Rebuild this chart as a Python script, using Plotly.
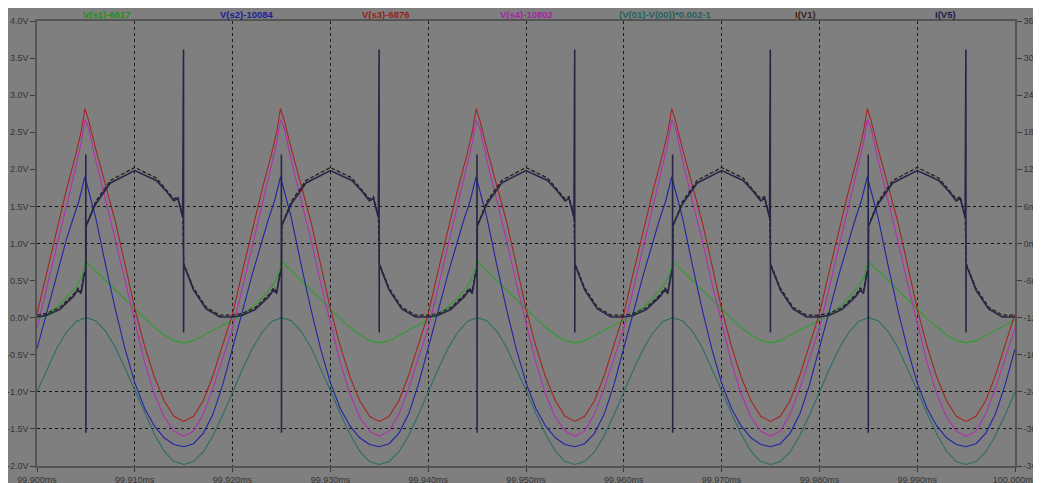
import plotly.graph_objects as go

# ---------------- data ----------------
T0_MS = 99.900
CYCLE_STARTS_US = [0, 20, 40, 60, 80]
END_US = 100.0

x_tick_vals = [99.90, 99.91, 99.92, 99.93, 99.94, 99.95, 99.96, 99.97, 99.98, 99.99, 100.00]
x_tick_text = ["99.900ms", "99.910ms", "99.920ms", "99.930ms", "99.940ms", "99.950ms",
               "99.960ms", "99.970ms", "99.980ms", "99.990ms", "100.000ms"]
left_tick_vals = [4.0, 3.5, 3.0, 2.5, 2.0, 1.5, 1.0, 0.5, 0.0, -0.5, -1.0, -1.5, -2.0]
left_tick_text = ["4.0V", "3.5V", "3.0V", "2.5V", "2.0V", "1.5V", "1.0V", "0.5V", "0.0V",
                  "-0.5V", "-1.0V", "-1.5V", "-2.0V"]
right_tick_vals = [36, 30, 24, 18, 12, 6, 0, -6, -12, -18, -24, -30, -36]
right_tick_text = ["36mA", "30mA", "24mA", "18mA", "12mA", "6mA", "0mA", "-6mA", "-12mA",
                   "-18mA", "-24mA", "-30mA", "-36mA"]
grid_y_vals = [1.5, 1.0, -1.0, -1.5]

# one switching cycle (time offset in µs within the 20 µs cycle)
s1_t = [0, 1, 2, 3, 4, 4.6, 5.0, 6, 7, 8, 9, 10, 11, 12, 13, 14, 15, 16, 17, 18, 19]
s1_v = [-0.03, 0.04, 0.14, 0.27, 0.42, 0.56, 0.76, 0.63, 0.50, 0.37, 0.24, 0.11, -0.01,
        -0.13, -0.23, -0.31, -0.34, -0.31, -0.24, -0.16, -0.09]

s2_t = [0, 1, 2, 3, 3.6, 4.3, 4.9, 5.5, 6, 7, 8, 9, 10, 11, 12, 13, 14, 15, 16, 17, 18, 19]
s2_v = [-0.42, 0.08, 0.58, 1.05, 1.30, 1.58, 1.90, 1.60, 1.35, 0.72, 0.12, -0.42, -0.88,
        -1.22, -1.46, -1.62, -1.71, -1.74, -1.70, -1.56, -1.30, -0.90]

s3_t = [0, 1, 2, 3, 4, 4.5, 4.9, 5.3, 6, 7, 8, 9, 10, 11, 12, 13, 14, 15, 16, 17, 18, 19]
s3_v = [0.05, 0.62, 1.18, 1.72, 2.22, 2.50, 2.82, 2.65, 2.28, 1.80, 1.30, 0.72, 0.12, -0.38,
        -0.80, -1.12, -1.33, -1.40, -1.33, -1.12, -0.78, -0.36]

s4_t = [0, 1, 2, 3, 4, 4.5, 4.9, 5.3, 6, 7, 8, 9, 10, 11, 12, 13, 14, 15, 16, 17, 18, 19]
s4_v = [-0.14, 0.40, 0.95, 1.50, 2.05, 2.35, 2.67, 2.55, 2.12, 1.60, 1.05, 0.47, -0.08,
        -0.60, -1.03, -1.34, -1.53, -1.60, -1.53, -1.30, -0.95, -0.55]

vd_t = [0, 1, 2, 3, 4, 5, 6, 7, 8, 9, 10, 11, 12, 13, 14, 15, 16, 17, 18, 19]
vd_v = [-1.00, -0.70, -0.42, -0.20, -0.05, 0.00, -0.04, -0.18, -0.40, -0.68, -0.98, -1.29,
        -1.57, -1.80, -1.94, -1.98, -1.94, -1.81, -1.59, -1.31]

iv1_t = [0, 1.0, 2.3, 3.7, 4.2, 4.5, 4.8, 5.0, 5.05, 6.0, 7.5, 10.0, 12.2, 13.2, 14.0, 14.4,
         14.9, 15.0, 16.0, 17.3, 18.7]
iv1_v = [-11.6, -11.3, -10.4, -8.3, -7.2, -7.8, -5.0, -4.0, 3.0, 6.8, 10.2, 12.3, 10.6, 8.8,
         7.2, 7.6, 4.4, -3.2, -7.2, -10.3, -11.6]

iv5_t = [0, 1.0, 2.3, 3.7, 4.2, 4.5, 4.8, 4.98, 4.99, 5.0, 5.01, 6.0, 7.5, 10.0, 12.2, 13.2,
         14.0, 14.4, 14.9, 14.98, 14.99, 15.0, 16.0, 17.3, 18.7]
iv5_v = [-11.9, -11.6, -10.7, -8.6, -7.5, -8.1, -5.3, -4.4, 14.4, -30.6, 2.8, 6.4, 9.8, 11.8,
         10.2, 8.5, 6.9, 7.3, 4.2, 31.4, -14.4, -3.4, -7.5, -10.6, -11.9]

# ---------------- build ----------------
def tile(tt, vv):
    xs, ys = [], []
    for c in CYCLE_STARTS_US:
        for t, v in zip(tt, vv):
            xs.append(T0_MS + (c + t) / 1000.0)
            ys.append(v)
    xs.append(T0_MS + END_US / 1000.0)
    ys.append(vv[0])
    return xs, ys

series = [
    ("V(s1)-6617", s1_t, s1_v, "#2c9e2c", "#1f8f1f", "y", None, 1.1),
    ("V(s2)-10084", s2_t, s2_v, "#2424a8", "#1c1c9c", "y", None, 1.1),
    ("V(s3)-6876", s3_t, s3_v, "#a82424", "#9a1c1c", "y", None, 1.1),
    ("V(s4)-10802", s4_t, s4_v, "#b030b0", "#a424a4", "y", None, 1.1),
    ("(V(01)-V(00))*0.002-1", vd_t, vd_v, "#2a6e66", "#1f625a", "y", None, 1.1),
    ("I(V1)", iv1_t, iv1_v, "#221a16", "#3a2614", "y2", "4px,2px", 1.2),
    ("I(V5)", iv5_t, iv5_v, "#262648", "#1c1c48", "y2", None, 1.6),
]

BG = "#7f7f7f"
fig = go.Figure()
annotations = []
n = len(series)
for k, (name, tt, vv, col, tcol, yax, dash, w) in enumerate(series):
    xs, ys = tile(tt, vv)
    fig.add_trace(go.Scatter(x=xs, y=ys, mode="lines", name=name, yaxis=yax,
                             line=dict(color=col, width=w, dash=dash),
                             showlegend=False, hoverinfo="skip"))
    annotations.append(dict(text=f"<b>{name}</b>", x=(k + 0.5) / n, y=1.0157,
                            xref="paper", yref="paper", xanchor="center", yanchor="middle",
                            showarrow=False,
                            font=dict(family="Liberation Sans", size=9.5, color=tcol)))

# horizontal dotted guide lines via an overlaid axis
fig.add_trace(go.Scatter(x=[x_tick_vals[0]], y=[grid_y_vals[0]], yaxis="y3", mode="markers",
                         marker=dict(opacity=0), showlegend=False, hoverinfo="skip"))

tickfont = dict(family="Liberation Sans", size=9, color="#353535")
fig.update_layout(
    width=1041, height=483, autosize=False,
    margin=dict(l=29, r=34, t=13, b=25, pad=0),
    paper_bgcolor=BG, plot_bgcolor=BG,
    annotations=annotations,
    xaxis=dict(range=[T0_MS, T0_MS + END_US / 1000.0], tickvals=x_tick_vals,
               ticktext=x_tick_text, tickfont=tickfont, ticks="outside", ticklen=4,
               tickcolor="#3a3a3a", showline=True, linecolor="#545454", linewidth=1.5,
               mirror=True, showgrid=True, gridcolor="#1e1e1e", griddash="dot",
               gridwidth=1, zeroline=False, automargin=False),
    yaxis=dict(range=[-2.0, 4.0], tickvals=left_tick_vals, ticktext=left_tick_text,
               tickfont=tickfont, ticks="outside", ticklen=5, tickcolor="#3a3a3a",
               showline=True, linecolor="#545454", linewidth=1.5, showgrid=False,
               zeroline=False, automargin=False),
    yaxis2=dict(range=[-36, 36], tickvals=right_tick_vals, ticktext=right_tick_text,
                overlaying="y", side="right", tickfont=tickfont, ticks="outside",
                ticklen=5, tickcolor="#3a3a3a", showline=True, linecolor="#545454",
                linewidth=1.5, showgrid=False, zeroline=False, automargin=False),
    yaxis3=dict(range=[-2.0, 4.0], tickvals=grid_y_vals, overlaying="y",
                showticklabels=False, ticks="", showgrid=True, gridcolor="#141414",
                griddash="dot", gridwidth=1.2, zeroline=False, showline=False,
                automargin=False),
)

fig.write_html("out.html")
